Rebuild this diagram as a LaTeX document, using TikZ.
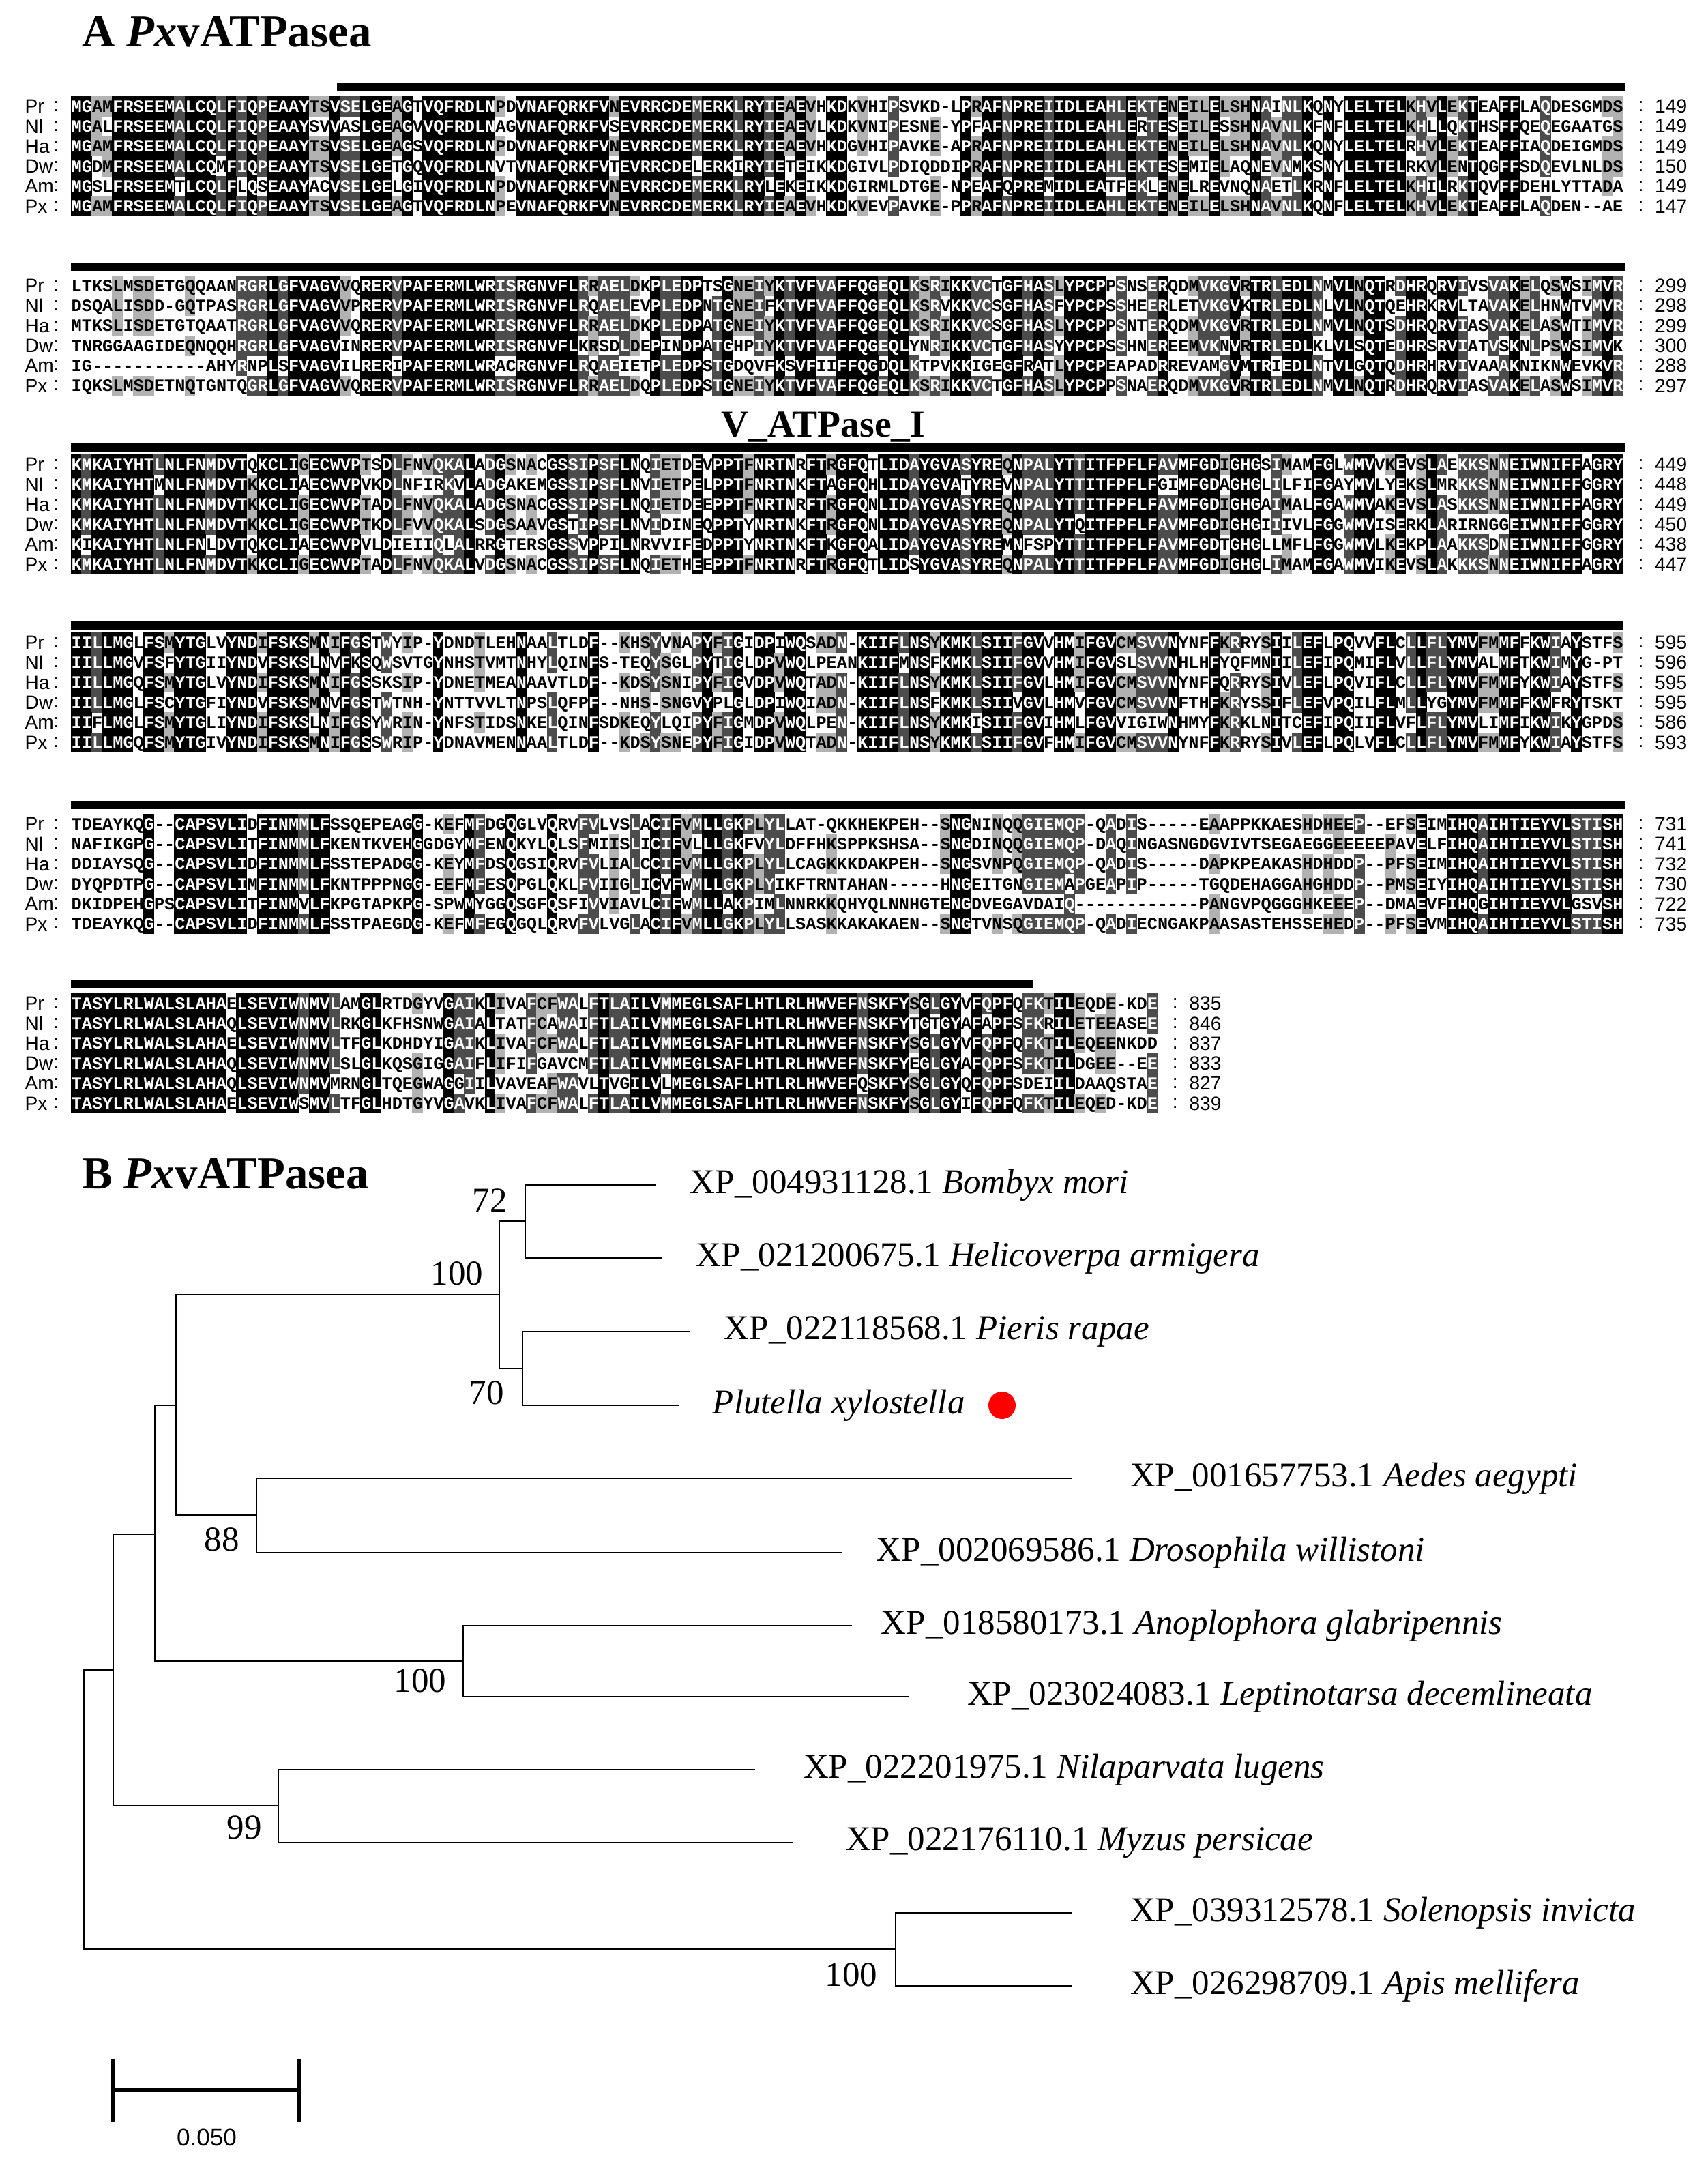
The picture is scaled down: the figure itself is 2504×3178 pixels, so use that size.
\documentclass[tikz,border=0pt]{standalone}
\usepackage{fontspec}
\setmainfont{Liberation Serif}
\newfontfamily\seqff{Liberation Mono}
\newfontfamily\labff{Liberation Sans}
\begin{document}
\tikzset{
  seqc/.style={font=\seqff\bfseries\fontsize{7.186}{8}\selectfont, inner sep=0pt, anchor=base west},
  lab/.style={font=\labff\fontsize{8}{9}\selectfont, inner sep=0pt},
  bar/.style={fill=black},
  br/.style={line width=0.7pt, black},
  tip/.style={anchor=west, inner sep=0pt, font=\fontsize{14.5}{16}\selectfont},
  bs/.style={inner sep=0pt, font=\fontsize{14.5}{16}\selectfont},
  head/.style={anchor=west, inner sep=0pt, font=\bfseries\fontsize{19}{22}\selectfont}
}
\newcommand\alnrun[4]{\fill[#4] (#1,#3-14.8) rectangle (#2,#3+14.8);}
\newcommand\alntext[2]{\node[seqc] at (104,#1+8.3) {#2};}
\newcommand\alnwhite{\color{white}}
\newcommand\alnblack{\color{black}}
\newcommand\alnlabel[4]{%
  \node[lab,anchor=west] at (36,#1) {#3};
  \node[lab] at (82,#1) {:};
  \node[lab] at (#2,#1) {:};
  \node[lab,anchor=west] at (#2+20,#1) {#4};}
\ExplSyntaxOn
\int_new:N \l_aln_len_int
\int_new:N \l_aln_k_int
\int_new:N \l_aln_cls_int
\int_new:N \l_aln_prev_int
\int_new:N \l_aln_start_int
\tl_new:N \l_aln_x_tl
\tl_new:N \l_aln_y_tl
\tl_new:N \l_aln_xa_tl
\tl_new:N \l_aln_xb_tl
\tl_new:N \l_aln_r_tl
\tl_new:N \l_aln_s_tl
\tl_new:N \l_aln_i_tl
\tl_new:N \l_aln_cr_tl
\tl_new:N \l_aln_cs_tl
\tl_new:N \l_aln_txt_tl
\tl_const:Nx \c_aln_dash_tl {\tl_to_str:n {-}}
\NewDocumentCommand{\alnset}{mmmm}{
  \str_set:cn {l_aln_seq_#1_str}{#3}
  \tl_set:cn {l_aln_name_#1_tl}{#2}
  \tl_set:cn {l_aln_num_#1_tl}{#4}
}
\cs_new_protected:Npn \aln_flush:n #1
{
  \tl_set:Nx \l_aln_xa_tl {\fp_eval:n {104 + (\l_aln_start_int - 1) * 15.17 - 0.3}}
  \tl_set:Nx \l_aln_xb_tl {\fp_eval:n {104 + (#1 - 1) * 15.17 + 0.3}}
  \int_case:nn {\l_aln_prev_int}
  {
    {1}{\alnrun{\l_aln_xa_tl}{\l_aln_xb_tl}{\l_aln_y_tl}{black}}
    {2}{\alnrun{\l_aln_xa_tl}{\l_aln_xb_tl}{\l_aln_y_tl}{black!70}}
    {3}{\alnrun{\l_aln_xa_tl}{\l_aln_xb_tl}{\l_aln_y_tl}{black!30}}
  }
}
\NewDocumentCommand{\alnrender}{m}{
  \int_set:Nn \l_aln_len_int {\str_count:c {l_aln_seq_1_str}}
  \int_step_variable:nNn {6} \l_aln_r_tl
  {
    \tl_set:Nx \l_aln_y_tl {\fp_eval:n {#1 + (\l_aln_r_tl - 1) * 29.3}}
    \tl_set:Nx \l_aln_x_tl {\fp_eval:n {104 + \l_aln_len_int * 15.17 + 26}}
    \alnlabel {\l_aln_y_tl} {\l_aln_x_tl} {\tl_use:c {l_aln_name_\l_aln_r_tl _tl}} {\tl_use:c {l_aln_num_\l_aln_r_tl _tl}}
    \tl_clear:N \l_aln_txt_tl
    \int_set:Nn \l_aln_prev_int {-1}
    \int_set:Nn \l_aln_start_int {1}
    \int_step_variable:nNn {\l_aln_len_int} \l_aln_i_tl
    {
      \tl_set:Nx \l_aln_cr_tl {\str_item:cn {l_aln_seq_\l_aln_r_tl _str} {\l_aln_i_tl}}
      \int_zero:N \l_aln_k_int
      \int_step_variable:nNn {6} \l_aln_s_tl
      {
        \tl_set:Nx \l_aln_cs_tl {\str_item:cn {l_aln_seq_\l_aln_s_tl _str} {\l_aln_i_tl}}
        \tl_if_eq:NNT \l_aln_cr_tl \l_aln_cs_tl { \int_incr:N \l_aln_k_int }
      }
      \tl_if_eq:NNT \l_aln_cr_tl \c_aln_dash_tl { \int_zero:N \l_aln_k_int }
      \int_set:Nn \l_aln_cls_int { \int_case:nnF {\l_aln_k_int} { {6}{1} {5}{2} {4}{3} } {0} }
      \int_compare:nNnF {\l_aln_cls_int} = {\l_aln_prev_int}
      {
        \aln_flush:n {\l_aln_i_tl}
        \int_set:Nn \l_aln_start_int {\l_aln_i_tl}
        \int_set_eq:NN \l_aln_prev_int \l_aln_cls_int
        \int_case:nnF {\l_aln_cls_int}
          {
            {1}{ \tl_put_right:Nn \l_aln_txt_tl {\alnwhite} }
            {2}{ \tl_put_right:Nn \l_aln_txt_tl {\alnwhite} }
          }
          { \tl_put_right:Nn \l_aln_txt_tl {\alnblack} }
      }
      \tl_put_right:NV \l_aln_txt_tl \l_aln_cr_tl
    }
    \aln_flush:n { \int_eval:n {\l_aln_len_int + 1} }
    \alntext {\l_aln_y_tl} {\l_aln_txt_tl}
  }
}
\ExplSyntaxOff
\begin{tikzpicture}[x=0.01cm,y=-0.01cm]
\useasboundingbox (0,0) rectangle (2504,3178);
\fill[white] (0,0) rectangle (2504,3178);
% ---------------- A: alignment ----------------
\node[head] (hA) at (120,47) {A \textit{Px}vATPasea};
\fill[bar] (494,122) rectangle (2382,134);
\alnset{1}{Pr}{MGAMFRSEEMALCQLFIQPEAAYTSVSELGEAGTVQFRDLNPDVNAFQRKFVNEVRRCDEMERKLRYIEAEVHKDKVHIPSVKD-LPRAFNPREIIDLEAHLEKTENEILELSHNAINLKQNYLELTELKHVLEKTEAFFLAQDESGMDS}{149}
\alnset{2}{Nl}{MGALFRSEEMALCQLFIQPEAAYSVVASLGEAGVVQFRDLNAGVNAFQRKFVSEVRRCDEMERKLRYIEAEVLKDKVNIPESNE-YPFAFNPREIIDLEAHLERTESEILESSHNAVNLKFNFLELTELKHLLQKTHSFFQEQEGAATGS}{149}
\alnset{3}{Ha}{MGAMFRSEEMALCQLFIQPEAAYTSVSELGEAGSVQFRDLNPDVNAFQRKFVNEVRRCDEMERKLRYIEAEVHKDGVHIPAVKE-APRAFNPREIIDLEAHLEKTENEILELSHNAVNLKQNYLELTELRHVLEKTEAFFIAQDEIGMDS}{149}
\alnset{4}{Dw}{MGDMFRSEEMALCQMFIQPEAAYTSVSELGETGQVQFRDLNVTVNAFQRKFVTEVRRCDELERKIRYIETEIKKDGIVLPDIQDDIPRAFNPREIIDLEAHLEKTESEMIELAQNEVNMKSNYLELTELRKVLENTQGFFSDQEVLNLDS}{150}
\alnset{5}{Am}{MGSLFRSEEMTLCQLFLQSEAAYACVSELGELGIVQFRDLNPDVNAFQRKFVNEVRRCDEMERKLRYLEKEIKKDGIRMLDTGE-NPEAFQPREMIDLEATFEKLENELREVNQNAETLKRNFLELTELKHILRKTQVFFDEHLYTTADA}{149}
\alnset{6}{Px}{MGAMFRSEEMALCQLFIQPEAAYTSVSELGEAGTVQFRDLNPEVNAFQRKFVNEVRRCDEMERKLRYIEAEVHKDKVEVPAVKE-PPRAFNPREIIDLEAHLEKTENEILELSHNAVNLKQNFLELTELKHVLEKTEAFFLAQDEN--AE}{147}
\alnrender{156}
\fill[bar] (104,385) rectangle (2382,397);
\alnset{1}{Pr}{LTKSLMSDETGQQAANRGRLGFVAGVVQRERVPAFERMLWRISRGNVFLRRAELDKPLEDPTSGNEIYKTVFVAFFQGEQLKSRIKKVCTGFHASLYPCPPSNSERQDMVKGVRTRLEDLNMVLNQTRDHRQRVIVSVAKELQSWSIMVR}{299}
\alnset{2}{Nl}{DSQALISDD-GQTPASRGRLGFVAGVVPRERVPAFERMLWRISRGNVFLRQAELEVPLEDPNTGNEIFKTVFVAFFQGEQLKSRVKKVCSGFHASFYPCPSSHEERLETVKGVKTRLEDLNLVLNQTQEHRKRVLTAVAKELHNWTVMVR}{298}
\alnset{3}{Ha}{MTKSLISDETGTQAATRGRLGFVAGVVQRERVPAFERMLWRISRGNVFLRRAELDKPLEDPATGNEIYKTVFVAFFQGEQLKSRIKKVCSGFHASLYPCPPSNTERQDMVKGVRTRLEDLNMVLNQTSDHRQRVIASVAKELASWTIMVR}{299}
\alnset{4}{Dw}{TNRGGAAGIDEQNQQHRGRLGFVAGVINRERVPAFERMLWRISRGNVFLKRSDLDEPINDPATGHPIYKTVFVAFFQGEQLYNRIKKVCTGFHASYYPCPSSHNEREEMVKNVRTRLEDLKLVLSQTEDHRSRVIATVSKNLPSWSIMVK}{300}
\alnset{5}{Am}{IG-----------AHYRNPLSFVAGVILRERIPAFERMLWRACRGNVFLRQAEIETPLEDPSTGDQVFKSVFIIFFQGDQLKTPVKKIGEGFRATLYPCPEAPADRREVAMGVMTRIEDLNTVLGQTQDHRHRVIVAAAKNIKNWEVKVR}{288}
\alnset{6}{Px}{IQKSLMSDETNQTGNTQGRLGFVAGVVQRERVPAFERMLWRISRGNVFLRRAELDQPLEDPSTGNEIYKTVFVAFFQGEQLKSRIKKVCTGFHASLYPCPPSNAERQDMVKGVRTRLEDLNMVLNQTRDHRQRVIASVAKELASWSIMVR}{297}
\alnrender{419}
\node[font=\bfseries\fontsize{15.8}{18}\selectfont, inner sep=0pt] (vt) at (1207,626) {V\_ATPase\_I};
\fill[bar] (104,650) rectangle (2382,662);
\alnset{1}{Pr}{KMKAIYHTLNLFNMDVTQKCLIGECWVPTSDLFNVQKALADGSNACGSSIPSFLNQIETDEVPPTFNRTNRFTRGFQTLIDAYGVASYREQNPALYTTITFPFLFAVMFGDIGHGSIMAMFGLWMVVKEVSLAEKKSNNEIWNIFFAGRY}{449}
\alnset{2}{Nl}{KMKAIYHTMNLFNMDVTKKCLIAECWVPVKDLNFIRKVLADGAKEMGSSIPSFLNVIETPELPPTFNRTNKFTAGFQHLIDAYGVATYREVNPALYTTITFPFLFGIMFGDAGHGLILFIFGAYMVLYEKSLMRKKSNNEIWNIFFGGRY}{448}
\alnset{3}{Ha}{KMKAIYHTLNLFNMDVTKKCLIGECWVPTADLFNVQKALADGSNACGSSIPSFLNQIETDEEPPTFNRTNRFTRGFQNLIDAYGVASYREQNPALYTTITFPFLFAVMFGDIGHGAIMALFGAWMVAKEVSLASKKSNNEIWNIFFAGRY}{449}
\alnset{4}{Dw}{KMKAIYHTLNLFNMDVTKKCLIGECWVPTKDLFVVQKALSDGSAAVGSTIPSFLNVIDINEQPPTYNRTNKFTRGFQNLIDAYGVASYREQNPALYTQITFPFLFAVMFGDIGHGIIIVLFGGWMVISERKLARIRNGGEIWNIFFGGRY}{450}
\alnset{5}{Am}{KIKAIYHTLNLFNLDVTQKCLIAECWVPVLDIEIIQLALRRGTERSGSSVPPILNRVVIFEDPPTYNRTNKFTKGFQALIDAYGVASYREMNFSPYTTITFPFLFAVMFGDTGHGLLMFLFGGWMVLKEKPLAAKKSDNEIWNIFFGGRY}{438}
\alnset{6}{Px}{KMKAIYHTLNLFNMDVTKKCLIGECWVPTADLFNVQKALVDGSNACGSSIPSFLNQIETHEEPPTFNRTNRFTRGFQTLIDSYGVASYREQNPALYTTITFPFLFAVMFGDIGHGLIMAMFGAWMVIKEVSLAKKKSNNEIWNIFFAGRY}{447}
\alnrender{681}
\fill[bar] (104,911) rectangle (2380,923);
\alnset{1}{Pr}{IILLMGLFSMYTGLVYNDIFSKSMNIFGSTWYIP-YDNDTLEHNAALTLDF--KHSYVNAPYFIGIDPIWQSADN-KIIFLNSYKMKLSIIFGVVHMIFGVCMSVVNYNFFKRRYSIILEFLPQVVFLCLLFLYMVFMMFFKWIAYSTFS}{595}
\alnset{2}{Nl}{IILLMGVFSFYTGIIYNDVFSKSLNVFKSQWSVTGYNHSTVMTNHYLQINFS-TEQYSGLPYTIGLDPVWQLPEANKIIFMNSFKMKLSIIFGVVHMIFGVSLSVVNHLHFYQFMNIILEFIPQMIFLVLLFLYMVALMFTKWIMYG-PT}{596}
\alnset{3}{Ha}{IILLMGQFSMYTGLVYNDIFSKSMNIFGSSKSIP-YDNETMEANAAVTLDF--KDSYSNIPYFIGVDPVWQTADN-KIIFLNSYKMKLSIIFGVLHMIFGVCMSVVNYNFFQRRYSIVLEFLPQVIFLCLLFLYMVFMMFYKWIAYSTFS}{595}
\alnset{4}{Dw}{IILLMGLFSCYTGFIYNDVFSKSMNVFGSTWTNH-YNTTVVLTNPSLQFPF--NHS-SNGVYPLGLDPIWQIADN-KIIFLNSFKMKLSIIVGVLHMVFGVCMSVVNFTHFKRYSSIFLEFVPQILFLMLLYGYMVFMMFFKWFRYTSKT}{595}
\alnset{5}{Am}{IIFLMGLFSMYTGLIYNDIFSKSLNIFGSYWRIN-YNFSTIDSNKELQINFSDKEQYLQIPYFIGMDPVWQLPEN-KIIFLNSYKMKISIIFGVIHMLFGVVIGIWNHMYFKRKLNITCEFIPQIIFLVFLFLYMVLIMFIKWIKYGPDS}{586}
\alnset{6}{Px}{IILLMGQFSMYTGIVYNDIFSKSMNIFGSSWRIP-YDNAVMENNAALTLDF--KDSYSNEPYFIGIDPVWQTADN-KIIFLNSYKMKLSIIFGVFHMIFGVCMSVVNYNFFKRRYSIVLEFLPQLVFLCLLFLYMVFMMFYKWIAYSTFS}{593}
\alnrender{942}
\fill[bar] (104,1174) rectangle (2382,1186);
\alnset{1}{Pr}{TDEAYKQG--CAPSVLIDFINMMLFSSQEPEAGG-KEFMFDGQGLVQRVFVLVSLACIFVMLLGKPLYLLAT-QKKHEKPEH--SNGNINQQGIEMQP-QADIS-----EAAPPKKAESHDHEEP--EFSEIMIHQAIHTIEYVLSTISH}{731}
\alnset{2}{Nl}{NAFIKGPG--CAPSVLITFINMMLFKENTKVEHGGDGYMFENQKYLQLSFMIISLICIFVLLLGKFVYLDFFHKSPPKSHSA--SNGDINQQGIEMQP-DAQINGASNGDGVIVTSEGAEGGEEEEEPAVELFIHQAIHTIEYVLSTISH}{741}
\alnset{3}{Ha}{DDIAYSQG--CAPSVLIDFINMMLFSSTEPADGG-KEYMFDSQGSIQRVFVLIALCCIFVMLLGKPLYLLCAGKKKDAKPEH--SNGSVNPQGIEMQP-QADIS-----DAPKPEAKASHDHDDP--PFSEIMIHQAIHTIEYVLSTISH}{732}
\alnset{4}{Dw}{DYQPDTPG--CAPSVLIMFINMMLFKNTPPPNGG-EEFMFESQPGLQKLFVIIGLICVFWMLLGKPLYIKFTRNTAHAN-----HNGEITGNGIEMAPGEAPIP-----TGQDEHAGGAHGHDDP--PMSEIYIHQAIHTIEYVLSTISH}{730}
\alnset{5}{Am}{DKIDPEHGPSCAPSVLITFINMVLFKPGTAPKPG-SPWMYGGQSGFQSFIVVIAVLCIFWMLLAKPIMLNNRKKQHYQLNNHGTENGDVEGAVDAIQ------------PANGVPQGGGHKEEEP--DMAEVFIHQGIHTIEYVLGSVSH}{722}
\alnset{6}{Px}{TDEAYKQG--CAPSVLIDFINMMLFSSTPAEGDG-KEFMFEGQGQLQRVFVLVGLACIFVMLLGKPLYLLSASKKAKAKAEN--SNGTVNSQGIEMQP-QADIECNGAKPAASASTEHSSEHEDP--PFSEVMIHQAIHTIEYVLSTISH}{735}
\alnrender{1208}
\fill[bar] (104,1436) rectangle (1514,1448);
\alnset{1}{Pr}{TASYLRLWALSLAHAELSEVIWNMVLAMGLRTDGYVGAIKLIVAFCFWALFTLAILVMMEGLSAFLHTLRLHWVEFNSKFYSGLGYVFQPFQFKTILEQDE-KDE}{835}
\alnset{2}{Nl}{TASYLRLWALSLAHAQLSEVIWNMVLRKGLKFHSNWGAIALTATFCAWAIFTLAILVMMEGLSAFLHTLRLHWVEFNSKFYTGTGYAFAPFSFKRILETEEASEE}{846}
\alnset{3}{Ha}{TASYLRLWALSLAHAELSEVIWNMVLTFGLKDHDYIGAIKLIVAFCFWALFTLAILVMMEGLSAFLHTLRLHWVEFNSKFYSGLGYVFQPFQFKTILEQEENKDD}{837}
\alnset{4}{Dw}{TASYLRLWALSLAHAQLSEVIWNMVLSLGLKQSGIGGAIFLIFIFGAVCMFTLAILVMMEGLSAFLHTLRLHWVEFNSKFYEGLGYAFQPFSFKTILDGEE--EE}{833}
\alnset{5}{Am}{TASYLRLWALSLAHAQLSEVIWNMVMRNGLTQEGWAGGIILVAVEAFWAVLTVGILVLMEGLSAFLHTLRLHWVEFQSKFYSGLGYQFQPFSDEIILDAAQSTAE}{827}
\alnset{6}{Px}{TASYLRLWALSLAHAELSEVIWSMVLTFGLHDTGYVGAVKLIVAFCFWALFTLAILVMMEGLSAFLHTLRLHWVEFNSKFYSGLGYIFQPFQFKTILEQED-KDE}{839}
\alnrender{1471}
% ---------------- B: tree ----------------
\node[head] (hB) at (120,1721) {B \textit{Px}vATPasea};
\coordinate (tBm) at (962,1737);  \coordinate (tHa) at (971,1844);
\coordinate (tPr) at (1012,1952); \coordinate (tPx) at (995,2060);
\coordinate (tAe) at (1572,2167); \coordinate (tDw) at (1235,2276);
\coordinate (tAg) at (1249,2383); \coordinate (tLd) at (1333,2487);
\coordinate (tNl) at (1107,2594); \coordinate (tMp) at (1162,2701);
\coordinate (tSi) at (1572,2804); \coordinate (tAm) at (1572,2911);
\coordinate (n72) at (770,1790);
\coordinate (n70) at (766,2006);
\coordinate (nL) at (732,1898);
\coordinate (n88) at (376,2221);
\coordinate (nLD) at (258,2060);
\coordinate (nCo) at (679,2435);
\coordinate (nH) at (227,2249);
\coordinate (n99) at (408,2647);
\coordinate (nX) at (166,2448);
\coordinate (nHy) at (1313,2857);
\coordinate (root) at (123,2653);
\draw[br] (n72) |- (tBm) (n72) |- (tHa);
\draw[br] (n70) |- (tPr) (n70) |- (tPx);
\draw[br] (nL) |- (n72) (nL) |- (n70);
\draw[br] (n88) |- (tAe) (n88) |- (tDw);
\draw[br] (nLD) |- (nL) (nLD) |- (n88);
\draw[br] (nCo) |- (tAg) (nCo) |- (tLd);
\draw[br] (nH) |- (nLD) (nH) |- (nCo);
\draw[br] (n99) |- (tNl) (n99) |- (tMp);
\draw[br] (nX) |- (nH) (nX) |- (n99);
\draw[br] (nHy) |- (tSi) (nHy) |- (tAm);
\draw[br] (root) |- (nX) (root) |- (nHy);
\node[tip] (lBm) at ([xshift=14]tBm) {XP\_004931128.1 \textit{Bombyx mori}};
\node[tip] (lHa) at ([xshift=14]tHa) {XP\_021200675.1 \textit{Helicoverpa armigera}};
\node[tip] (lPr) at ([xshift=14]tPr) {XP\_022118568.1 \textit{Pieris rapae}};
\node[tip] (lPx) at ([xshift=14]tPx) {\textit{Plutella xylostella}};
\node[tip] (lAe) at ([xshift=24]tAe) {XP\_001657753.1 \textit{Aedes aegypti}};
\node[tip] (lDw) at ([xshift=14]tDw) {XP\_002069586.1 \textit{Drosophila willistoni}};
\node[tip] (lAg) at ([xshift=12]tAg) {XP\_018580173.1 \textit{Anoplophora glabripennis}};
\node[tip] (lLd) at ([xshift=24]tLd) {XP\_023024083.1 \textit{Leptinotarsa decemlineata}};
\node[tip] (lNl) at ([xshift=20]tNl) {XP\_022201975.1 \textit{Nilaparvata lugens}};
\node[tip] (lMp) at ([xshift=22]tMp) {XP\_022176110.1 \textit{Myzus persicae}};
\node[tip] (lSi) at ([xshift=24]tSi) {XP\_039312578.1 \textit{Solenopsis invicta}};
\node[tip] (lAm) at ([xshift=24]tAm) {XP\_026298709.1 \textit{Apis mellifera}};
\fill[red] (1469,2060) circle (20);
\node[bs] (b72) at (718,1760) {72};
\node[bs] (b100a) at (670,1867) {100};
\node[bs] (b70) at (713,2042) {70};
\node[bs] (b88) at (325,2257) {88};
\node[bs] (b100b) at (616,2464) {100};
\node[bs] (b99) at (358,2679) {99};
\node[bs] (b100c) at (1248,2895) {100};
\coordinate (sbL) at (166,3064);
\coordinate (sbR) at (438,3064);
\draw[line width=1.8pt] (sbL) -- (sbR);
\draw[line width=1.8pt] ([yshift=-13]sbL) -- ([yshift=13]sbL);
\draw[line width=1.8pt] ([yshift=-13]sbR) -- ([yshift=13]sbR);
\node[font=\labff\fontsize{10}{12}\selectfont, inner sep=0pt] (sbt) at (303,3133) {0.050};
\end{tikzpicture}
\end{document}
